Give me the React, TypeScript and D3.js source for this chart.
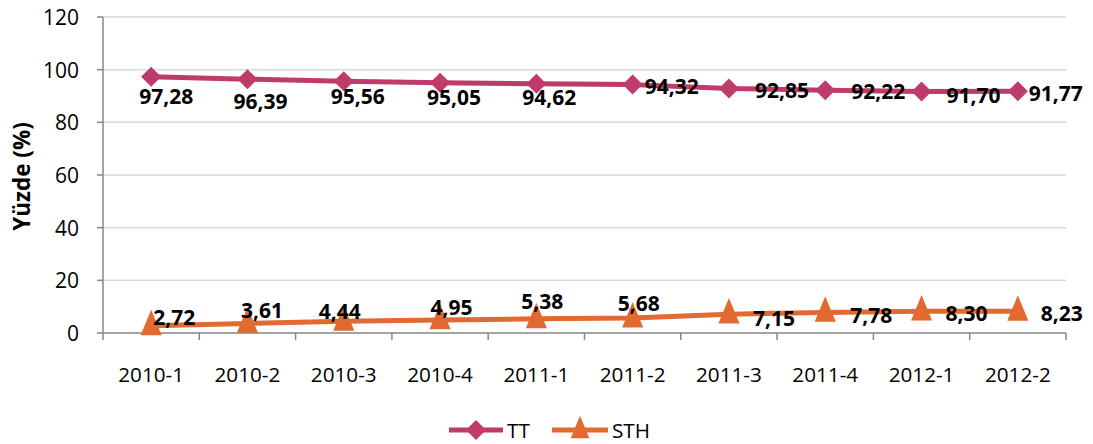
import React from "react";
import * as d3 from "d3";

const categories = ["2010-1","2010-2","2010-3","2010-4","2011-1","2011-2","2011-3","2011-4","2012-1","2012-2"];
const ttValues = [97.28, 96.39, 95.56, 95.05, 94.62, 94.32, 92.85, 92.22, 91.70, 91.77];
const sthValues = [2.72, 3.61, 4.44, 4.95, 5.38, 5.68, 7.15, 7.78, 8.30, 8.23];
const yTicks = [0, 20, 40, 60, 80, 100, 120];
const seriesNames = ["TT", "STH"];

// label placement: [dx, dy, anchor]
const ttLabelPos: [number, number, string][] = [
  [15, 19, "middle"], [13, 22, "middle"], [14, 14.5, "middle"], [14, 14, "middle"], [13, 13.5, "middle"],
  [12, 1.5, "start"], [26, 2, "start"], [26, 1, "start"], [25, 3.5, "start"], [11, 2, "start"],
];
const sthLabelPos: [number, number, string][] = [
  [23, -9, "middle"], [14.5, -13, "middle"], [-4, -10.5, "middle"], [11.5, -13, "middle"], [6, -18, "middle"],
  [6, -15, "middle"], [24, 3.5, "start"], [25, 2, "start"], [24, 2, "start"], [23, 2, "start"],
];

const W = 1093, H = 444;
const left = 103, right = 1066, top = 17, bottom = 333;
const TT_COLOR = "#BE3B6B";
const STH_COLOR = "#E2692F";
const FONT = "'Open Sans', sans-serif";

const fmt = (v: number) => v.toFixed(2).replace(".", ",");

export default function App() {
  const x = d3.scaleBand<string>().domain(categories).range([left, right]).padding(0);
  const y = d3.scaleLinear().domain([0, 120]).range([bottom, top]);
  const cx = (c: string) => (x(c) as number) + x.bandwidth() / 2;
  const line = d3.line<number>().x((_, i) => cx(categories[i])).y((d) => y(d));
  const diamond = (px: number, py: number, r: number) => `M${px},${py - r}L${px + r},${py}L${px},${py + r}L${px - r},${py}Z`;
  const tri = (px: number, py: number, s: number) => `M${px},${py - s * 0.95}L${px + s * 0.62},${py + s * 0.55}L${px - s * 0.62},${py + s * 0.55}Z`;

  const tickXs = categories.map((c) => x(c) as number).concat([right]);

  return (
    <svg width={W} height={H} style={{ position: "absolute", left: 0, top: 0, background: "#fff" }} fontFamily={FONT}>
      {yTicks.map((t) => (
        <g key={t}>
          {t > 0 && <line x1={left} x2={right} y1={y(t)} y2={y(t)} stroke="#D9D9D9" strokeWidth={1.5} />}
          <line x1={left - 6} x2={left} y1={y(t)} y2={y(t)} stroke="#868686" strokeWidth={1.5} />
          <text x={79} y={y(t)} textAnchor="end" dominantBaseline="central" fontSize={21} fill="#000">{t}</text>
        </g>
      ))}
      <line x1={left} x2={left} y1={top} y2={bottom} stroke="#868686" strokeWidth={1.5} />
      <line x1={left} x2={right} y1={bottom} y2={bottom} stroke="#868686" strokeWidth={1.5} />
      {tickXs.map((tx, i) => (
        <line key={i} x1={tx} x2={tx} y1={bottom} y2={bottom + 7} stroke="#868686" strokeWidth={1.5} />
      ))}
      {categories.map((c) => (
        <text key={c} x={cx(c)} y={373.5} textAnchor="middle" dominantBaseline="central" fontSize={20.7} fill="#000">{c}</text>
      ))}
      <text transform={`translate(21,176.5) rotate(-90)`} textAnchor="middle" dominantBaseline="central" fontSize={22.5} fontWeight="bold" fill="#000">Yüzde (%)</text>

      <path d={line(ttValues) || ""} fill="none" stroke={TT_COLOR} strokeWidth={5} strokeLinejoin="round" />
      <path d={line(sthValues) || ""} fill="none" stroke={STH_COLOR} strokeWidth={5} strokeLinejoin="round" />
      {ttValues.map((v, i) => (
        <path key={"td" + i} d={diamond(cx(categories[i]), y(v), 10)} fill={TT_COLOR} />
      ))}
      {sthValues.map((v, i) => (
        <path key={"st" + i} d={tri(cx(categories[i]), y(v), 17)} fill={STH_COLOR} />
      ))}
      {ttValues.map((v, i) => (
        <text key={"tl" + i} x={cx(categories[i]) + ttLabelPos[i][0]} y={y(v) + ttLabelPos[i][1]} textAnchor={ttLabelPos[i][2] as any} dominantBaseline="central" fontSize={21} fontWeight="bold" fill="#000">{fmt(v)}</text>
      ))}
      {sthValues.map((v, i) => (
        <text key={"sl" + i} x={cx(categories[i]) + sthLabelPos[i][0]} y={y(v) + sthLabelPos[i][1]} textAnchor={sthLabelPos[i][2] as any} dominantBaseline="central" fontSize={21} fontWeight="bold" fill="#000">{fmt(v)}</text>
      ))}

      {/* legend */}
      <g>
        <line x1={449} x2={503} y1={430} y2={430} stroke={TT_COLOR} strokeWidth={5} />
        <path d={diamond(476, 430, 10)} fill={TT_COLOR} />
        <text x={507} y={430} dominantBaseline="central" fontSize={20.7} fill="#000">{seriesNames[0]}</text>
        <line x1={552} x2={608} y1={430} y2={430} stroke={STH_COLOR} strokeWidth={5} />
        <path d={tri(580, 430, 15)} fill={STH_COLOR} />
        <text x={612} y={430} dominantBaseline="central" fontSize={20.7} fill="#000">{seriesNames[1]}</text>
      </g>
    </svg>
  );
}
